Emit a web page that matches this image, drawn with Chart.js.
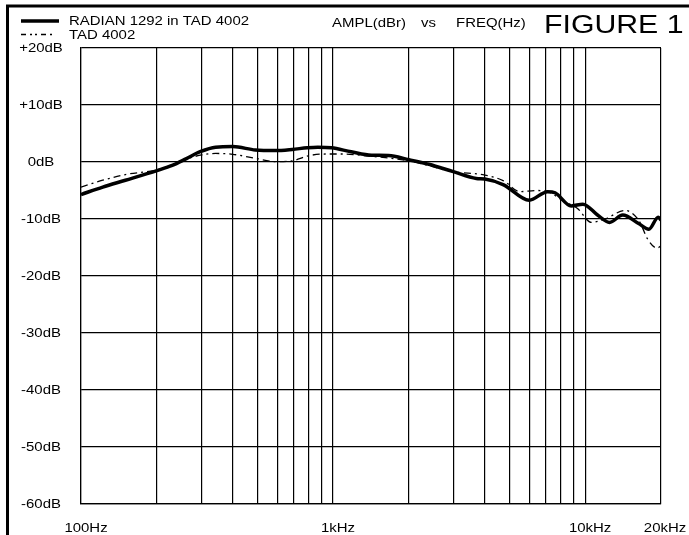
<!DOCTYPE html>
<html>
<head>
<meta charset="utf-8">
<script src="https://cdn.jsdelivr.net/npm/chart.js@4.4.0/dist/chart.umd.min.js"></script>
<style>
  body { margin: 0; background: #fff; }
  canvas { display: block; }
</style>
</head>
<body>
<canvas id="fig1" width="689" height="535"></canvas>
<script>
// grid / tick values
const xTicks = [100, 200, 300, 400, 500, 600, 700, 800, 900,
                1000, 2000, 3000, 4000, 5000, 6000, 7000, 8000, 9000, 10000, 20000];
const xTickLabels = { 100: '100Hz', 1000: '1kHz', 10000: '10kHz', 20000: '20kHz' };
const yTicks = [20, 10, 0, -10, -20, -30, -40, -50, -60];

// RADIAN 1292 in TAD 4002 (solid)
const radianFreq = [100, 122, 150, 200, 230, 262, 297, 342, 400, 492, 590, 688, 790, 870, 985,
                    1180, 1420, 1660, 2000, 2400, 3000, 3700, 4000, 4750, 6000, 7100, 7600,
                    8800, 9800, 11200, 12500, 14100, 16300, 17900, 19500, 20000];
const radianDb = [-5.7, -4.4, -3.2, -1.5, -0.6, 0.6, 1.8, 2.6, 2.7, 2.1, 2.0, 2.2, 2.5, 2.6, 2.5,
                  1.8, 1.2, 1.15, 0.4, -0.4, -1.7, -2.9, -3.0, -4.0, -6.7, -5.2, -5.4,
                  -7.7, -7.4, -9.3, -10.6, -9.3, -10.8, -11.8, -9.7, -10.2];

// TAD 4002 (dash-dot)
const tadFreq = [100, 122, 150, 200, 230, 262, 297, 342, 400, 492, 590, 688, 790, 930, 1100,
                 1340, 2000, 3000, 4000, 4750, 5500, 6400, 7100, 8300, 9300, 10600, 12000,
                 14400, 16300, 17800, 19300, 20000];
const tadDb = [-4.4, -3.2, -2.2, -1.4, -0.5, 0.5, 1.2, 1.5, 1.35, 0.65, 0.05, 0.2, 1.05, 1.4, 1.4,
               1.1, 0.2, -1.7, -2.3, -3.3, -5.2, -5.0, -5.2, -7.0, -8.1, -10.6, -10.0,
               -8.5, -10.2, -13.7, -15.1, -14.7];

const toPoints = (xs, ys) => xs.map((x, i) => ({ x: x, y: ys[i] }));

// text in the scan is wider than plain Arial, so stretch it a bit
function wideText(ctx, txt, x, y, align, sx) {
  ctx.save();
  ctx.translate(x, y);
  ctx.scale(sx, 1);
  ctx.textAlign = align;
  ctx.fillText(txt, 0, 0);
  ctx.restore();
}

const decorations = {
  id: 'decorations',
  afterDraw(chart) {
    const ctx = chart.ctx;
    const xs = chart.scales.x, ys = chart.scales.y;
    ctx.save();
    ctx.fillStyle = '#000';
    ctx.strokeStyle = '#000';

    // outer frame (left and top)
    ctx.lineWidth = 3;
    ctx.beginPath();
    ctx.moveTo(7.5, 535);
    ctx.lineTo(7.5, 6);
    ctx.lineTo(689, 6);
    ctx.stroke();

    // axis labels
    ctx.font = '13px "Liberation Sans", Arial, sans-serif';
    ctx.textBaseline = 'middle';
    yTicks.forEach(v => {
      const label = (v > 0 ? '+' : '') + v + 'dB';
      wideText(ctx, label, 41, ys.getPixelForValue(v), 'center', 1.15);
    });
    Object.keys(xTickLabels).forEach(k => {
      let px = xs.getPixelForValue(Number(k)) + 5;
      if (Number(k) === 20000) px = 665;
      wideText(ctx, xTickLabels[k], px, 528, 'center', 1.15);
    });

    // legend
    ctx.lineWidth = 3.5;
    ctx.beginPath();
    ctx.moveTo(21, 21);
    ctx.lineTo(59, 21);
    ctx.stroke();
    ctx.lineWidth = 1.5;
    ctx.setLineDash([5, 4, 2, 3, 2, 4]);
    ctx.beginPath();
    ctx.moveTo(21, 34.5);
    ctx.lineTo(55, 34.5);
    ctx.stroke();
    ctx.setLineDash([]);
    wideText(ctx, 'RADIAN 1292 in TAD 4002', 69, 21, 'left', 1.15);
    wideText(ctx, 'TAD 4002', 69, 35, 'left', 1.15);

    // titles
    wideText(ctx, 'AMPL(dBr)', 332, 23, 'left', 1.15);
    wideText(ctx, 'vs', 421, 23, 'left', 1.15);
    wideText(ctx, 'FREQ(Hz)', 456, 23, 'left', 1.15);
    ctx.font = '25px "Liberation Sans", Arial, sans-serif';
    wideText(ctx, 'FIGURE 1', 544, 26, 'left', 1.21);
    ctx.restore();
  }
};

const ctx = document.getElementById('fig1').getContext('2d');
const fig1 = new Chart(ctx, {
  type: 'line',
  data: {
    datasets: [{
      label: 'RADIAN 1292 in TAD 4002',
      data: toPoints(radianFreq, radianDb),
      borderColor: '#000',
      borderWidth: 3.5,
      pointRadius: 0,
      tension: 0.4,
      cubicInterpolationMode: 'monotone'
    }, {
      label: 'TAD 4002',
      data: toPoints(tadFreq, tadDb),
      borderColor: '#000',
      borderWidth: 1.3,
      borderDash: [7, 4, 2, 4],
      pointRadius: 0,
      tension: 0.4,
      cubicInterpolationMode: 'monotone'
    }]
  },
  options: {
    responsive: false,
    animation: false,
    layout: { padding: { left: 81, right: 28, top: 48, bottom: 31 } },
    plugins: {
      legend: { display: false },
      tooltip: { enabled: false }
    },
    scales: {
      x: {
        type: 'logarithmic',
        min: 100,
        max: 20000,
        afterBuildTicks: scale => { scale.ticks = xTicks.map(v => ({ value: v })); },
        ticks: { display: false },
        grid: { color: '#000', lineWidth: 1.2, drawTicks: false },
        border: { color: '#000', width: 1.2 }
      },
      y: {
        min: -60,
        max: 20,
        afterBuildTicks: scale => { scale.ticks = yTicks.map(v => ({ value: v })); },
        ticks: { display: false },
        grid: { color: '#000', lineWidth: 1.2, drawTicks: false },
        border: { color: '#000', width: 1.2 }
      }
    }
  },
  plugins: [decorations]
});
</script>
</body>
</html>
